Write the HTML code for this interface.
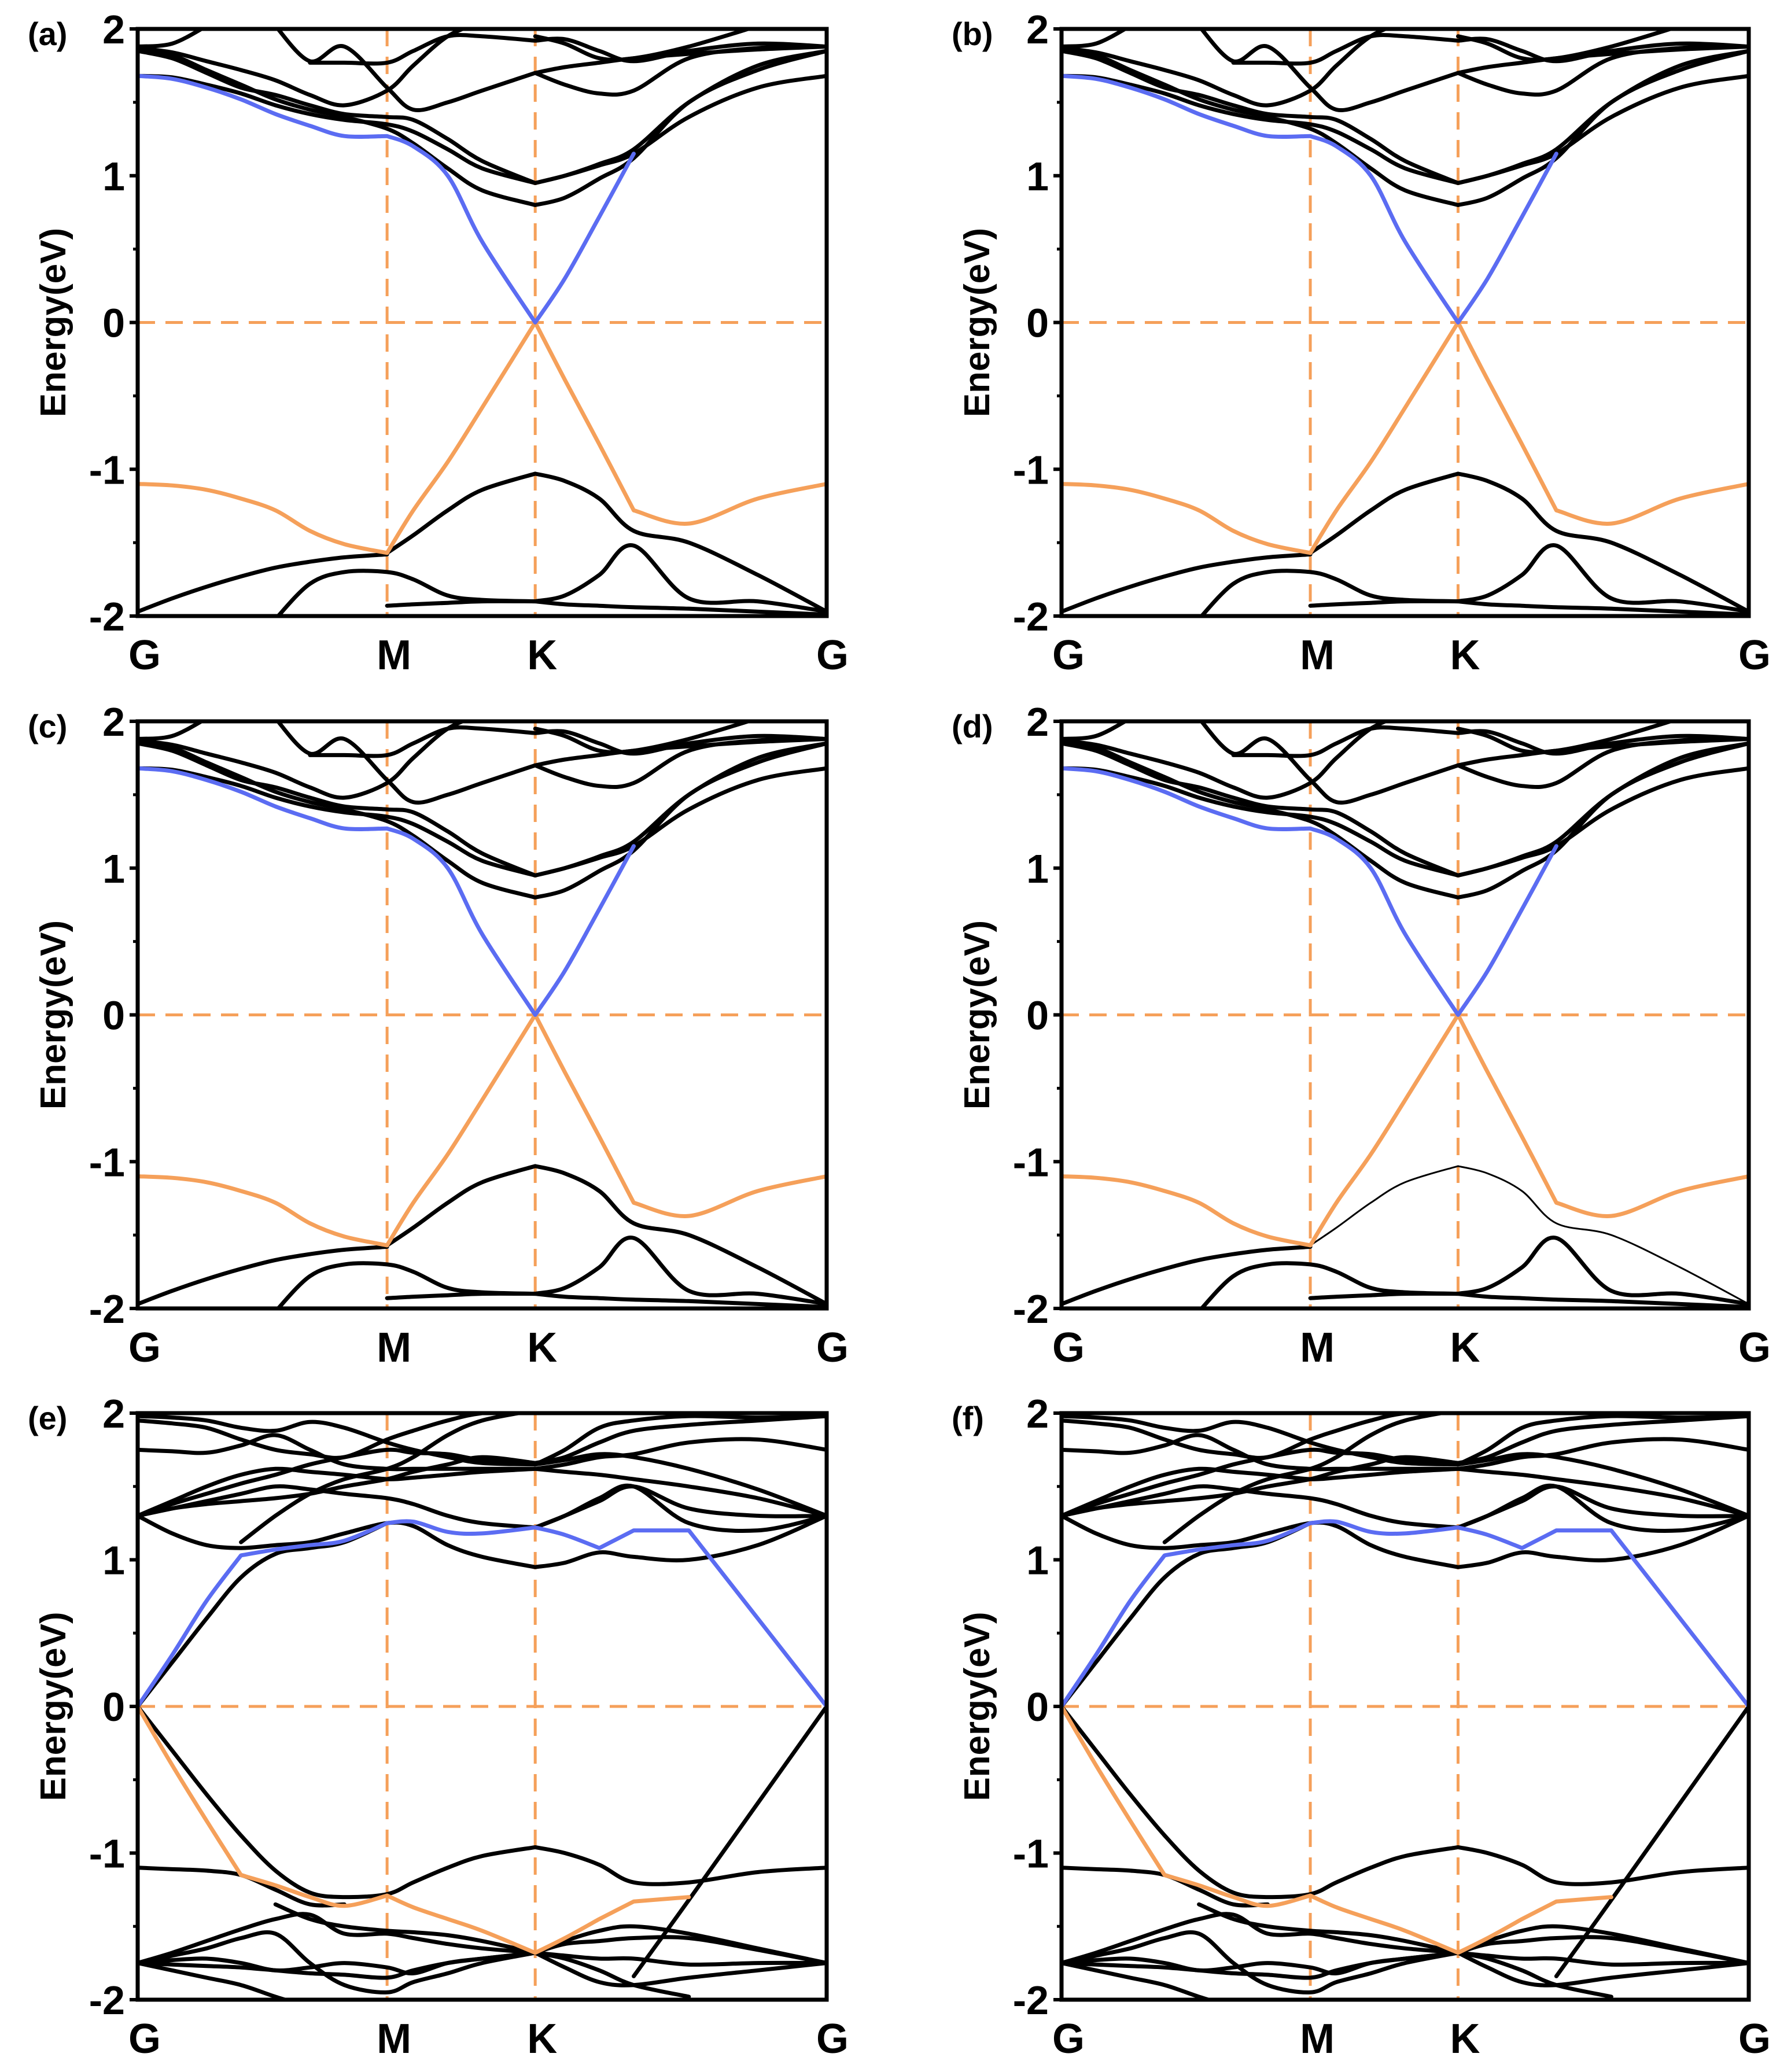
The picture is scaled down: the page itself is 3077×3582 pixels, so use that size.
<!DOCTYPE html>
<html><head><meta charset="utf-8">
<style>
html,body{margin:0;padding:0;background:#fff;}
svg{display:block;font-family:"Liberation Sans",Arial,sans-serif;}
</style></head>
<body>
<svg id="fig" width="3077" height="3582" viewBox="0 0 3077 3582" xmlns="http://www.w3.org/2000/svg"></svg>
<script>
// ---- data ----
const kLabels = ['G','M','K','G'];
const kTicks = [0, 0.362, 0.577, 1];
const yTicks = [2, 1, 0, -1, -2];
const yMinor = [1.5, 0.5, -0.5, -1.5];
const kGrid = [0,0.05,0.1,0.15,0.2,0.25,0.3,0.362,0.4,0.45,0.5,0.577,0.62,0.67,0.72,0.8,0.9,1];
const panelLetters = ['(a)','(b)','(c)','(d)','(e)','(f)'];

// graphene-like panels (a-d)
const blueA = [1.68,1.66,1.6,1.52,1.42,1.34,1.27,1.27,1.2,1.0,0.55,0,0.3,0.72,1.15,null,null,null];
const orangeA = [-1.1,-1.11,-1.14,-1.2,-1.28,-1.42,-1.51,-1.57,-1.28,-0.95,-0.58,0,-0.39,-0.83,-1.28,-1.37,-1.2,-1.1];
const blackA1 = [null,null,null,null,null,null,null,-1.57,-1.45,-1.28,-1.14,-1.03,-1.08,-1.2,-1.42,-1.5,-1.72,-1.97];
const blackA2 = [-1.97,-1.88,-1.8,-1.73,-1.67,-1.63,-1.6,-1.58,null,null,null,null,null,null,null,null,null,null];
const blackA3 = [null,null,null,null,-2.02,-1.78,-1.7,-1.7,-1.75,-1.86,-1.89,-1.9,-1.86,-1.72,-1.52,-1.88,-1.9,-1.97];
const blackA4 = [null,null,null,null,null,null,null,-1.93,-1.92,-1.91,-1.9,-1.9,-1.92,-1.93,-1.94,-1.95,-1.97,-1.99];
const blackA5 = [1.68,1.67,1.62,1.56,1.48,1.42,1.38,1.35,1.3,1.18,1.05,0.95,1.0,1.07,1.15,1.4,1.6,1.68];
const blackA6 = [1.85,1.82,1.72,1.62,1.52,1.45,1.4,1.32,1.22,1.05,0.9,0.8,0.85,0.98,1.12,1.5,1.72,1.85];
const blackA7 = [1.85,1.8,1.7,1.6,1.55,1.48,1.42,1.4,1.38,1.25,1.1,0.95,1.0,1.08,1.18,1.5,1.75,1.85];
const blackA8 = [1.87,1.84,1.78,1.72,1.65,1.55,1.48,1.58,1.75,1.95,2.05,null,null,null,null,null,null,null];
const blackA9 = [1.88,1.9,2.02,null,null,null,null,null,null,null,null,null,null,null,null,null,null,null];
const blackA10 = [null,null,null,null,2.02,1.78,1.88,1.6,1.45,1.5,1.58,1.7,1.74,1.77,1.8,1.83,1.86,1.88];
const blackA11 = [null,null,null,null,null,1.77,1.77,1.77,1.85,1.95,1.95,1.92,1.93,1.85,1.78,1.85,1.9,1.88];
const blackA12 = [null,null,null,null,null,null,null,null,null,null,null,1.7,1.62,1.56,1.58,1.8,1.87,1.88];
const blackA13 = [null,null,null,null,null,null,null,null,null,null,null,1.95,1.9,1.8,1.8,1.88,2.02,null];
const blackBandsA = [blackA1,blackA2,blackA3,blackA4,blackA5,blackA6,blackA7,blackA8,blackA9,blackA10,blackA11,blackA12,blackA13];

// panels (e-f)
const blueE = [0,0.35,0.72,1.03,1.07,1.1,1.13,1.25,1.26,1.19,1.18,1.22,1.17,1.08,1.2,1.2,0.6,0];
const orangeE = [0,-0.4,-0.78,-1.15,-1.22,-1.3,-1.36,-1.29,-1.37,-1.45,-1.53,-1.68,-1.58,-1.45,-1.33,-1.3,null,null];
const blackE1 = [0,-0.3,-0.6,-0.88,-1.12,-1.27,-1.3,-1.28,-1.2,-1.1,-1.02,-0.96,-1.0,-1.08,-1.2,-1.2,-1.13,-1.1];
const blackE2 = [-1.1,-1.11,-1.12,-1.15,-1.25,-1.35,-1.35,null,null,null,null,null,null,null,null,null,null,null];
const blackE3 = [null,null,null,null,null,null,null,null,null,null,null,null,null,null,-1.84,-1.32,-0.66,0];
const blackE4 = [-1.75,-1.68,-1.6,-1.52,-1.45,-1.42,-1.55,-1.55,-1.58,-1.62,-1.65,-1.68,-1.6,-1.53,-1.5,-1.55,-1.65,-1.75];
const blackE5 = [-1.75,-1.7,-1.65,-1.58,-1.55,-1.75,-1.9,-1.95,-1.88,-1.82,-1.75,-1.68,-1.62,-1.6,-1.58,-1.58,-1.66,-1.75];
const blackE6 = [-1.75,-1.76,-1.77,-1.78,-1.8,-1.82,-1.83,-1.85,-1.8,-1.75,-1.72,-1.68,-1.78,-1.88,-1.9,-1.85,-1.8,-1.75];
const blackE7 = [-1.75,-1.8,-1.85,-1.9,-1.98,-2.05,null,null,null,null,null,null,null,null,null,null,null,null];
const blackE8 = [null,null,null,null,-1.35,-1.45,-1.5,-1.53,-1.54,-1.56,-1.6,-1.68,-1.72,-1.8,-1.9,-1.98,null,null];
const blackE9 = [-1.75,-1.73,-1.72,-1.75,-1.8,-1.78,-1.75,-1.78,-1.82,-1.75,-1.72,-1.68,-1.7,-1.72,-1.72,-1.76,-1.75,-1.75];
const blackE10 = [0,0.3,0.6,0.88,1.04,1.08,1.12,1.25,null,null,null,null,null,null,null,null,null,null];
const blackE11 = [1.3,1.18,1.1,1.08,1.1,1.12,1.18,1.25,1.23,1.1,1.02,0.95,0.98,1.05,1.02,1.0,1.1,1.3];
const blackE12 = [1.3,1.35,1.4,1.45,1.5,1.48,1.45,1.42,1.38,1.3,1.25,1.22,1.3,1.4,1.5,1.35,1.3,1.3];
const blackE13 = [1.3,1.4,1.5,1.58,1.62,1.6,1.58,1.55,1.56,1.58,1.6,1.62,1.6,1.58,1.55,1.5,1.42,1.3];
const blackE14 = [1.3,1.38,1.45,1.52,1.58,1.65,1.7,1.75,1.73,1.72,1.68,1.65,1.68,1.72,1.7,1.62,1.48,1.3];
const blackE15 = [1.75,1.74,1.73,1.78,1.85,1.75,1.65,1.62,1.62,1.62,1.62,1.62,1.65,1.7,1.72,1.8,1.82,1.75];
const blackE16 = [1.95,1.93,1.9,1.82,1.75,1.72,1.7,1.82,1.88,1.95,2.0,2.02,null,null,null,null,null,null];
const blackE17 = [1.98,1.97,1.95,1.9,1.88,1.94,1.9,1.8,1.75,1.7,1.66,1.65,1.75,1.9,1.95,1.98,1.97,1.98];
const blackE18 = [null,null,null,1.12,1.3,1.45,1.55,1.62,1.7,1.85,1.95,2.02,null,null,null,null,null,null];
const blackE19 = [null,null,null,null,null,null,null,null,null,null,null,1.22,1.3,1.42,1.5,1.25,1.2,1.3];
const blackE20 = [1.3,1.35,1.38,1.4,1.42,1.45,1.5,1.55,1.6,1.65,1.7,1.66,1.7,1.8,1.88,1.92,1.95,1.98];
const blackBandsE = [blackE1,blackE2,blackE3,blackE4,blackE5,blackE6,blackE7,blackE8,blackE9,blackE10,blackE11,blackE12,blackE13,blackE14,blackE15,blackE16,blackE17,blackE18,blackE19,blackE20];

// grid indices where the coloured bands have a sharp corner
const sharpA = [7, 11, 14];
const sharpE = [3, 7, 11, 13, 14, 15];

// ---- layout ----
const colLeft = [238, 1835];
const colRight = [1429, 3023];
const rowTop = [50, 1247, 2443];
const rowBottom = [1065, 2262, 3457];
const ORANGE = '#f5a05a', BLUE = '#5b6cf2';
const NS = 'http://www.w3.org/2000/svg';
const svg = document.getElementById('fig');

function mk(tag, attrs, parent) {
  const e = document.createElementNS(NS, tag);
  for (const a in attrs) e.setAttribute(a, attrs[a]);
  parent.appendChild(e);
  return e;
}

function drawPanel(idx) {
  const col = idx % 2, row = Math.floor(idx / 2);
  const L = colLeft[col], R = colRight[col], T = rowTop[row], B = rowBottom[row];
  const xs = k => L + k * (R - L);
  const ys = e => T + (2 - e) / 4 * (B - T);
  const isE = row === 2;
  const g = mk('g', {}, svg);
  
  

  const clipId = 'clip' + idx;
  const defs = mk('defs', {}, g);
  const cp = mk('clipPath', {id: clipId}, defs);
  mk('rect', {x: L, y: T, width: R - L, height: B - T}, cp);

  const guides = mk('g', {stroke: ORANGE, 'stroke-width': 5, 'stroke-dasharray': '30 18', fill: 'none'}, g);
  
  
  const hl = mk('line', {x1: L, x2: R, y1: ys(0), y2: ys(0)}, guides);
  
  
  [1, 2].forEach(i => {
    const vl = mk('line', {x1: xs(kTicks[i]), x2: xs(kTicks[i]), y1: T, y2: B}, guides);
    
    
  });

  const bands = mk('g', {'clip-path': 'url(#' + clipId + ')', fill: 'none', 'stroke-linejoin': 'round', 'stroke-linecap': 'round'}, g);
  // smooth path (Catmull-Rom), breaking at nulls and sharp indices
  function path(vals, sharp) {
    const runs = [];
    let cur = [];
    for (let i = 0; i < kGrid.length; i++) {
      if (vals[i] === null) { if (cur.length) runs.push(cur); cur = []; continue; }
      cur.push([xs(kGrid[i]), ys(vals[i]), i]);
    }
    if (cur.length) runs.push(cur);
    let d = '';
    runs.forEach(pts => {
      d += 'M' + pts[0][0].toFixed(1) + ' ' + pts[0][1].toFixed(1) + ' ';
      for (let j = 0; j < pts.length - 1; j++) {
        const p1 = pts[j], p2 = pts[j + 1];
        const s1 = sharp.indexOf(p1[2]) >= 0, s2 = sharp.indexOf(p2[2]) >= 0;
        const p0 = (j > 0 && !s1) ? pts[j - 1] : p1;
        const p3 = (j + 2 < pts.length && !s2) ? pts[j + 2] : p2;
        const c1x = p1[0] + (p2[0] - p0[0]) / 6, c1y = p1[1] + (p2[1] - p0[1]) / 6;
        const c2x = p2[0] - (p3[0] - p1[0]) / 6, c2y = p2[1] - (p3[1] - p1[1]) / 6;
        d += 'C' + c1x.toFixed(1) + ' ' + c1y.toFixed(1) + ' ' + c2x.toFixed(1) + ' ' + c2y.toFixed(1) + ' ' + p2[0].toFixed(1) + ' ' + p2[1].toFixed(1) + ' ';
      }
    });
    return d;
  }
  const blacks = isE ? blackBandsE : blackBandsA;
  const sharp = isE ? sharpE : sharpA;
  blacks.forEach((b, i) => {
    const p = mk('path', {d: path(b, [11]), stroke: '#000', 'stroke-width': (idx === 3 && i === 0) ? 3 : 7}, bands);
    
    
  });
  const ob = mk('path', {d: path(isE ? orangeE : orangeA, sharp), stroke: ORANGE, 'stroke-width': 7}, bands);
  
  
  const bb = mk('path', {d: path(isE ? blueE : blueA, sharp), stroke: BLUE, 'stroke-width': 7}, bands);
  
  

  const fr = mk('rect', {x: L, y: T, width: R - L, height: B - T, fill: 'none', stroke: '#000', 'stroke-width': 7}, g);
  
  

  yTicks.forEach(v => {
    const t = mk('line', {x1: L - 14, x2: L, y1: ys(v), y2: ys(v), stroke: '#000', 'stroke-width': 6}, g);
    
    
    const tx = mk('text', {x: L - 22, y: ys(v) + 25, 'text-anchor': 'end', 'font-size': 70, 'font-weight': 'bold'}, g);
    tx.textContent = String(v);
    
    
  });
  yMinor.forEach(v => {
    const t = mk('line', {x1: L - 8, x2: L, y1: ys(v), y2: ys(v), stroke: '#000', 'stroke-width': 5}, g);
    
    
  });
  kTicks.forEach((k, i) => {
    const off = i === 3 ? 10 : 12;
    const tx = mk('text', {x: xs(k) + off, y: B + 92, 'text-anchor': 'middle', 'font-size': 72, 'font-weight': 'bold'}, g);
    tx.textContent = kLabels[i];
    
    
  });
  const cy = (T + B) / 2, cx = L - 125;
  const at = mk('text', {x: cx, y: cy, 'text-anchor': 'middle', 'font-size': 62, 'font-weight': 'bold', transform: 'rotate(-90 ' + cx + ' ' + cy + ')'}, g);
  at.textContent = 'Energy(eV)';
  
  
  const pl = mk('text', {x: L - 190, y: T + 28, 'font-size': 56, 'font-weight': 'bold'}, g);
  pl.textContent = panelLetters[idx];
  
  
}
for (let i = 0; i < 6; i++) drawPanel(i);
</script>
</body></html>
